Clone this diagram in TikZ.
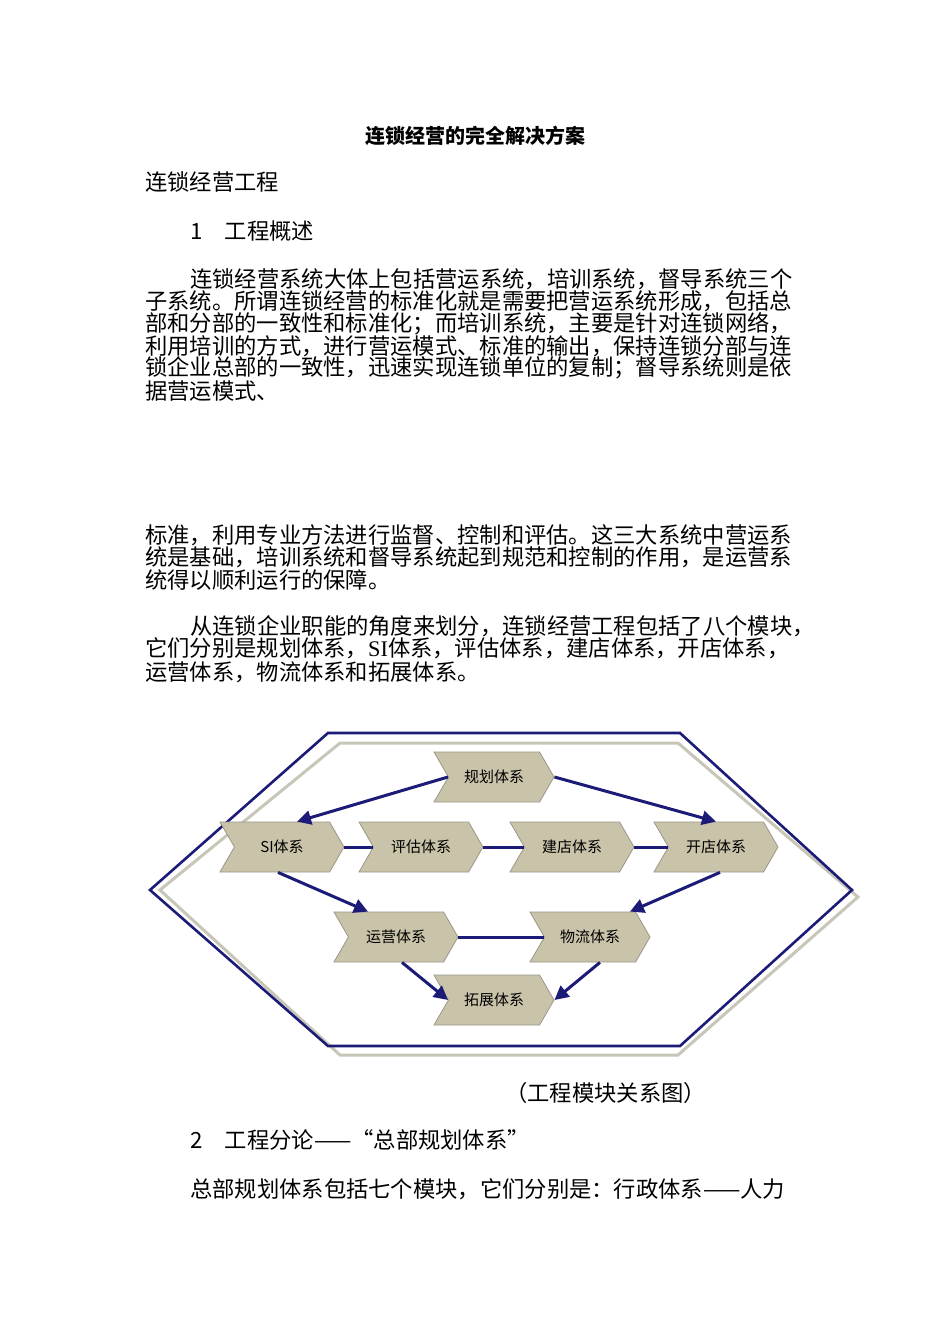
\documentclass[tikz,border=0pt]{standalone}
\usepackage{fontspec}
\setmainfont{Liberation Serif}
\newfontfamily\cjk{Noto Sans CJK SC}
\usetikzlibrary{shapes.symbols,arrows.meta}
\definecolor{navy}{HTML}{1C1C78}
\definecolor{tan}{HTML}{C9C3A9}
\definecolor{hexborder}{HTML}{9A9688}
\definecolor{lightline}{HTML}{C8C6B8}
\tikzset{
  txt/.style={anchor=west,inner sep=0pt,font=\cjk\fontsize{22.3}{22}\selectfont},
  hexbox/.style={signal,signal from=west,signal to=east,signal pointer angle=120,
    fill=tan,draw=hexborder,line width=0.8pt,minimum width=124pt,minimum height=50pt,
    inner sep=0pt,font=\cjk\fontsize{15}{15}\selectfont},
  link/.style={navy,line width=3pt},
  arr/.style={navy,line width=3pt,-{Triangle[length=14pt,width=14pt]}}
}
\begin{document}
\begin{tikzpicture}[x=1pt,y=-1pt]
\useasboundingbox[fill=white] (0,0) rectangle (950,1344);
\node[anchor=center,inner sep=0pt,font=\cjk\bfseries\fontsize{20}{20}\selectfont] (title) at (475,136) {连锁经营的完全解决方案};
\node[txt] (l1) at (145,182) {连锁经营工程};
\node[txt] (l2) at (190,231) {1\quad 工程概述};
\node[txt] (l3) at (190,279) {连锁经营系统大体上包括营运系统，培训系统，督导系统三个};
\node[txt] (l4) at (145,301) {子系统。所谓连锁经营的标准化就是需要把营运系统形成，包括总};
\node[txt] (l5) at (145,324) {部和分部的一致性和标准化；而培训系统，主要是针对连锁网络，};
\node[txt] (l6) at (145,346) {利用培训的方式，进行营运模式、标准的输出，保持连锁分部与连};
\node[txt] (l7) at (145,368) {锁企业总部的一致性，迅速实现连锁单位的复制；督导系统则是依};
\node[txt] (l8) at (145,391) {据营运模式、};
\node[txt] (l9) at (145,535) {标准，利用专业方法进行监督、控制和评估。这三大系统中营运系};
\node[txt] (l10) at (145,557) {统是基础，培训系统和督导系统起到规范和控制的作用，是运营系};
\node[txt] (l11) at (145,580) {统得以顺利运行的保障。};
\node[txt] (l12) at (190,626) {从连锁企业职能的角度来划分，连锁经营工程包括了八个模块，};
\node[txt] (l13) at (145,648) {它们分别是规划体系，{\rmfamily SI}体系，评估体系，建店体系，开店体系，};
\node[txt] (l14) at (145,672) {运营体系，物流体系和拓展体系。};
\node[txt] (l15) at (505,1093) {（工程模块关系图）};
\node[txt] (l16) at (190,1140) {2\quad 工程分论——“总部规划体系”};
\node[txt] (l17) at (190,1189) {总部规划体系包括七个模块，它们分别是：行政体系——人力};
% frames
\draw[lightline,line width=3pt] (340,743) -- (678,743) -- (858,897) -- (678,1055) -- (340,1055) -- (160,890) -- cycle;
\draw[navy,line width=2.6pt] (328,733) -- (680,733) -- (852,890) -- (680,1046) -- (328,1046) -- (150,890) -- cycle;
% nodes
\node[hexbox,minimum width=120pt] (gh) at (494,777) {规划体系};
\node[hexbox] (si) at (282,847) {SI体系};
\node[hexbox] (pg) at (421,847) {评估体系};
\node[hexbox] (jd) at (572,847) {建店体系};
\node[hexbox] (kd) at (716,847) {开店体系};
\node[hexbox] (yy) at (396,937) {运营体系};
\node[hexbox,minimum width=120pt] (wl) at (590,937) {物流体系};
\node[hexbox,minimum width=120pt] (tz) at (494,1000) {拓展体系};
% links
\draw[link] (si.east) -- (pg.west);
\draw[link] (pg.east) -- (jd.west);
\draw[link] (jd.east) -- (kd.west);
\draw[link] (yy.east) -- (wl.west);
% arrows
\draw[arr] (gh.west) -- ([xshift=15pt]si.north);
\draw[arr] (gh.east) -- (kd.north);
\draw[arr] ([xshift=-4pt]si.south) -- ([xshift=-28pt]yy.north);
\draw[arr] ([xshift=4pt]kd.south) -- ([xshift=40pt]wl.north);
\draw[arr] ([xshift=6pt]yy.south) -- (tz.west);
\draw[arr] ([xshift=10pt]wl.south) -- (tz.east);
\end{tikzpicture}
\end{document}
